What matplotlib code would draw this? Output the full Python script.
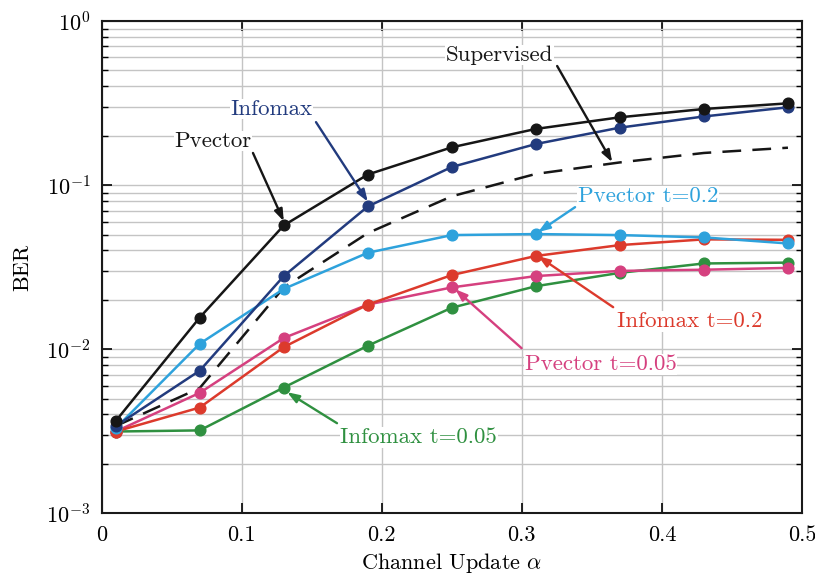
import matplotlib
matplotlib.use("Agg")
import matplotlib.pyplot as plt

plt.rcParams["font.family"] = "serif"
plt.rcParams["font.serif"] = ["cmr10", "DejaVu Serif"]
plt.rcParams["mathtext.fontset"] = "cm"
plt.rcParams["axes.formatter.use_mathtext"] = True

alpha = [0.01, 0.07, 0.13, 0.19, 0.25, 0.31, 0.37, 0.43, 0.49]

pvector = [3.65e-3, 0.0156, 0.0568, 0.116, 0.170, 0.220, 0.259, 0.291, 0.315]
infomax = [3.4e-3, 7.4e-3, 0.0279, 0.0741, 0.129, 0.178, 0.224, 0.262, 0.298]
supervised = [3.4e-3, 5.8e-3, 0.0238, 0.051, 0.0855, 0.117, 0.1375, 0.157, 0.169]
pvector_02 = [3.3e-3, 0.0108, 0.0233, 0.0387, 0.0496, 0.0503, 0.0496, 0.048, 0.0441]
infomax_02 = [3.15e-3, 4.41e-3, 0.0103, 0.0187, 0.0283, 0.037, 0.0431, 0.0467, 0.0464]
pvector_005 = [3.15e-3, 5.42e-3, 0.0117, 0.0187, 0.0238, 0.0279, 0.030, 0.0305, 0.0313]
infomax_005 = [3.15e-3, 3.2e-3, 5.84e-3, 0.0105, 0.0179, 0.0242, 0.0292, 0.0333, 0.0337]

c_black = "#161616"
c_blue = "#223b7e"
c_light = "#2ea2dc"
c_red = "#dc3a2c"
c_pink = "#d5407f"
c_green = "#2f9040"

fig = plt.figure(figsize=(8.15, 5.79), dpi=100)
ax = fig.add_axes([0.1248, 0.1135, 0.8592, 0.8502])

ax.plot(alpha, supervised, color=c_black, lw=1.8, ls=(0, (7.5, 4.5)), zorder=3)
ax.plot(alpha, infomax_005, color=c_green, lw=1.8, marker="o", ms=7.7, zorder=3)
ax.plot(alpha, pvector_005, color=c_pink, lw=1.8, marker="o", ms=7.7, zorder=3)
ax.plot(alpha, infomax_02, color=c_red, lw=1.8, marker="o", ms=7.7, zorder=3)
ax.plot(alpha, pvector_02, color=c_light, lw=1.8, marker="o", ms=7.7, zorder=3)
ax.plot(alpha, infomax, color=c_blue, lw=1.8, marker="o", ms=7.7, zorder=3)
ax.plot(alpha, pvector, color=c_black, lw=1.8, marker="o", ms=7.7, zorder=3)

ax.set_yscale("log")
ax.set_xlim(0, 0.5)
ax.set_ylim(1e-3, 1)
ax.set_xticks([0, 0.1, 0.2, 0.3, 0.4, 0.5])
ax.set_xticklabels(["0", "0.1", "0.2", "0.3", "0.4", "0.5"])
ax.grid(True, which="major", color="#c4c4c4", lw=1.0)
ax.grid(True, which="minor", axis="y", color="#c4c4c4", lw=1.0)
ax.set_axisbelow(True)
ax.tick_params(which="both", direction="in", top=True, right=True, labelsize=16)
ax.tick_params(which="major", length=7, width=1.2)
ax.tick_params(axis="x", which="major", pad=9)
ax.tick_params(axis="y", which="major", pad=8)
ax.tick_params(which="minor", length=4, width=1.0)
for s in ax.spines.values():
    s.set_linewidth(1.5)
    s.set_color("#1a1a1a")

ax.set_xlabel(r"Channel Update $\alpha$", fontsize=16, labelpad=4)
ax.set_ylabel("BER", fontsize=16, labelpad=10)

box = dict(facecolor="white", edgecolor="none", pad=0.5)


def label(text, pos, tail, tip, color):
    ax.annotate("", xy=tip, xytext=tail,
                arrowprops=dict(arrowstyle="-|>,head_length=0.7,head_width=0.25",
                                color=color, lw=1.7, shrinkA=0, shrinkB=0),
                zorder=5)
    ax.text(pos[0], pos[1], text, color=color, fontsize=16.5,
            ha="center", va="center_baseline", bbox=box, zorder=6)


label("Pvector", (0.0795, 0.191), (0.108, 0.157), (alpha[2], pvector[2] * 1.06), c_black)
label("Infomax", (0.1213, 0.299), (0.153, 0.242), (alpha[3], infomax[3] * 1.07), c_blue)
label("Supervised", (0.2838, 0.638), (0.3252, 0.532), (0.3645, 0.138), c_black)
label("Pvector t=0.2", (0.39, 0.0881), (0.338, 0.0734), (0.3116, 0.0517), c_light)
label("Infomax t=0.2", (0.4195, 0.01524), (0.3652, 0.01803), (0.3116, 0.0369), c_red)
label("Pvector t=0.05", (0.3563, 0.00833), (0.2998, 0.01014), (0.2524, 0.0232), c_pink)
label("Infomax t=0.05", (0.2263, 0.00299), (0.168, 0.00354), (0.1324, 0.00547), c_green)

fig.savefig("out.png", dpi=100)
